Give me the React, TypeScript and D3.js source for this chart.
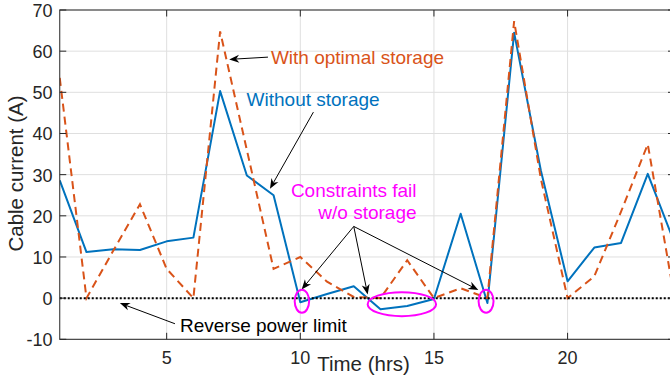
import React from 'react'
import * as d3 from 'd3'

// hours of the day
const hours = [1, 2, 3, 4, 5, 6, 7, 8, 9, 10, 11, 12, 13, 14, 15, 16, 17, 18, 19, 20, 21, 22, 23, 24]
// cable current without storage (A)
const withoutStorage = [28.6, 11.2, 11.9, 11.7, 13.8, 14.7, 50.3, 29.8, 25, -1, 1, 2.9, -2.7, -1.9, -0.2, 20.5, -1.2, 64.5, 31, 4.1, 12.3, 13.4, 30.2, 13.4]
// cable current with optimal storage (A)
const withStorage = [53.5, 0, 11.5, 22.8, 7.1, 0, 64.8, 36, 7.1, 10, 4, 0.3, 0, 9.2, 0, 2.4, 0, 67.3, 29, 0, 5.3, 21, 37.4, 0]
const reverseLimit = 0

const xTicks = [5, 10, 15, 20]
const yTicks = [-10, 0, 10, 20, 30, 40, 50, 60, 70]

// annotation anchors, in data units (hours, A)
const failTargets = [
  [10.05, 2.1],
  [12.52, 0.9],
  [16.66, 2.0],
]
const failEllipses = [
  { h: 10.06, v: -0.75, rh: 0.27, rv: 2.8 },
  { h: 13.8, v: -1.46, rh: 1.28, rv: 2.92 },
  { h: 16.95, v: -0.75, rh: 0.28, rv: 2.8 },
]

const W = 670
const H = 382
const margin = { left: 59.75, top: 10, right: 674.5, bottom: 339.3 }
const FONT = '"Liberation Sans", Arial, Helvetica, sans-serif'
const AXIS = '#262626'
const BLUE = '#0072BD'
const ORANGE = '#D95319'
const MAGENTA = '#FF00FF'

const x = d3.scaleLinear().domain([1, 24]).range([margin.left, margin.right])
const y = d3.scaleLinear().domain([-10, 70]).range([margin.bottom, margin.top])

const line = d3
  .line<number>()
  .x((_, i) => x(hours[i]))
  .y((d) => y(d))

function Arrow({ x1, y1, x2, y2 }: { x1: number; y1: number; x2: number; y2: number }) {
  const a = Math.atan2(y2 - y1, x2 - x1)
  const L = 10
  const hw = 4
  const n = 7
  const c = Math.cos(a)
  const s = Math.sin(a)
  const bx = x2 - L * c
  const by = y2 - L * s
  const p1 = [bx - hw * s, by + hw * c]
  const p2 = [bx + hw * s, by - hw * c]
  const pn = [x2 - n * c, y2 - n * s]
  return (
    <g>
      <line x1={x1} y1={y1} x2={pn[0]} y2={pn[1]} stroke="#000" strokeWidth={1} />
      <path d={`M${x2},${y2}L${p1[0]},${p1[1]}L${pn[0]},${pn[1]}L${p2[0]},${p2[1]}Z`} fill="#000" />
    </g>
  )
}

export default function App() {
  return (
    <div style={{ position: 'fixed', left: 0, top: 0 }}>
      <svg width={W} height={H} style={{ display: 'block', background: '#fff' }} fontFamily={FONT}>
        <defs>
          <clipPath id="plot">
            <rect x={margin.left} y={margin.top} width={margin.right - margin.left} height={margin.bottom - margin.top} />
          </clipPath>
        </defs>
        <rect x={margin.left} y={margin.top} width={margin.right - margin.left} height={margin.bottom - margin.top} fill="#fff" />

        {/* grid */}
        {xTicks.map((t) => (
          <line key={'gx' + t} x1={x(t)} x2={x(t)} y1={margin.top} y2={margin.bottom} stroke="#dfdfdf" strokeWidth={1} />
        ))}
        {yTicks.map((t) => (
          <line key={'gy' + t} x1={margin.left} x2={margin.right} y1={y(t)} y2={y(t)} stroke="#dfdfdf" strokeWidth={1} />
        ))}

        <g clipPath="url(#plot)">
          <path d={line(withoutStorage) || ''} fill="none" stroke={BLUE} strokeWidth={2} strokeLinejoin="round" />
          <path d={line(withStorage) || ''} fill="none" stroke={ORANGE} strokeWidth={2} strokeDasharray="8,5" />
          <line x1={margin.left} x2={margin.right} y1={y(reverseLimit)} y2={y(reverseLimit)} stroke="#000" strokeWidth={2} strokeDasharray="2,2" />
        </g>

        {/* axes box */}
        <rect x={margin.left} y={margin.top} width={margin.right - margin.left} height={margin.bottom - margin.top} fill="none" stroke={AXIS} strokeWidth={1} />
        {xTicks.map((t) => (
          <g key={'tx' + t}>
            <line x1={x(t)} x2={x(t)} y1={margin.bottom} y2={margin.bottom - 6.5} stroke={AXIS} />
            <line x1={x(t)} x2={x(t)} y1={margin.top} y2={margin.top + 6.5} stroke={AXIS} />
            <text x={x(t)} y={margin.bottom + 25} textAnchor="middle" fontSize={18} fill={AXIS}>
              {t}
            </text>
          </g>
        ))}
        {yTicks.map((t) => (
          <g key={'ty' + t}>
            <line x1={margin.left} x2={margin.left + 6.5} y1={y(t)} y2={y(t)} stroke={AXIS} />
            <line x1={margin.right} x2={margin.right - 6.5} y1={y(t)} y2={y(t)} stroke={AXIS} />
            <text x={margin.left - 7.3} y={y(t) + 7} textAnchor="end" fontSize={18} fill={AXIS}>
              {t}
            </text>
          </g>
        ))}

        <text x={363.5} y={370.8} textAnchor="middle" fontSize={20.5} fill={AXIS}>
          Time (hrs)
        </text>
        <text transform={`translate(22.5,173.5) rotate(-90)`} textAnchor="middle" fontSize={20.5} fill={AXIS}>
          Cable current (A)
        </text>

        {/* annotations */}
        <text x={x(8.9)} y={y(56.95)} fontSize={19} fill={ORANGE}>
          With optimal storage
        </text>
        <Arrow x1={x(8.79)} y1={y(58.55)} x2={x(7.34)} y2={y(58.0)} />

        <text x={x(7.99)} y={y(46.7)} fontSize={19} fill={BLUE}>
          Without storage
        </text>
        <Arrow x1={x(10.49)} y1={y(45.19)} x2={x(8.866)} y2={y(26.58)} />

        <text x={x(14.35)} y={y(24.59)} textAnchor="end" fontSize={19} fill={MAGENTA}>
          Constraints fail
        </text>
        <text x={x(14.35)} y={y(19.24)} textAnchor="end" fontSize={19} fill={MAGENTA}>
          w/o storage
        </text>
        {failTargets.map(([h, v], i) => (
          <Arrow key={'fa' + i} x1={x(12.0)} y1={y(17.42)} x2={x(h)} y2={y(v)} />
        ))}
        {failEllipses.map((e, i) => (
          <ellipse
            key={'el' + i}
            cx={x(e.h)}
            cy={y(e.v)}
            rx={x(e.h + e.rh) - x(e.h)}
            ry={y(e.v) - y(e.v + e.rv)}
            fill="none"
            stroke={MAGENTA}
            strokeWidth={2}
          />
        ))}

        <text x={x(5.5)} y={y(-8.21)} fontSize={19} fill="#000">
          Reverse power limit
        </text>
        <Arrow x1={x(5.31)} y1={y(-6.22)} x2={x(3.25)} y2={y(-1.21)} />
      </svg>
    </div>
  )
}
